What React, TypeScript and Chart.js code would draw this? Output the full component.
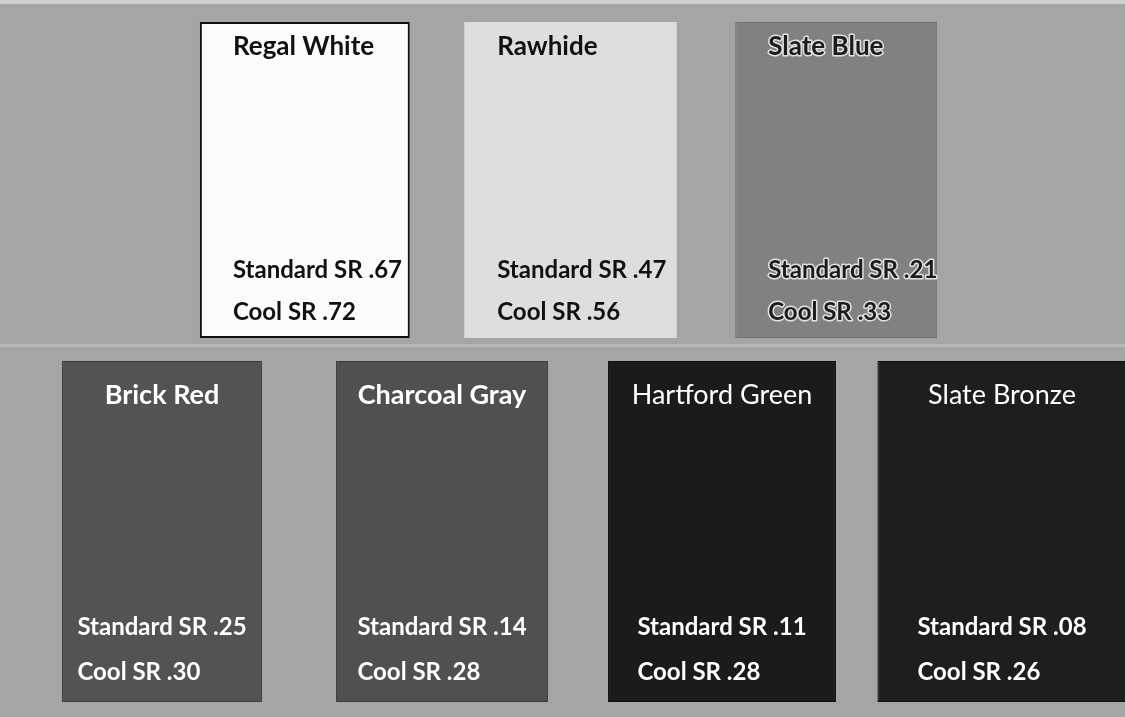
import React, { useEffect, useRef } from "react";
import { Chart, registerables } from "chart.js";

Chart.register(...registerables);

// ---- data ----
const topNames = ["Regal White", "Rawhide", "Slate Blue"];
const topStandardSR = [0.67, 0.47, 0.21];
const topCoolSR = [0.72, 0.56, 0.33];

const bottomNames = ["Brick Red", "Charcoal Gray", "Hartford Green", "Slate Bronze"];
const bottomStandardSR = [0.25, 0.14, 0.11, 0.08];
const bottomCoolSR = [0.3, 0.28, 0.28, 0.26];

// ---- styles ----
const topFills = ["#fbfbfb", "#dedede", "#818181"];
const topBorders = ["#111111", "#c8c8c8", "#6e6e6e"];
const topBorderWidths = [2, 0, 1];
const topTextColors = ["#111111", "#111111", "#1c1c1c"];
const topHalo = [null, null, "rgba(235,235,235,0.9)"];
const topWidths = [0.79, 0.8, 0.76];
const topTitleWeights = ["bold", "bold", "bold"];

const bottomFills = ["#535353", "#505050", "#1b1b1b", "#1e1e1e"];
const bottomBorders = ["#3e3e3e", "#3e3e3e", "#0e0e0e", "#0e0e0e"];
const bottomBorderWidths = [1, 1, 1, 1];
const bottomTextColors = ["#ffffff", "#ffffff", "#ffffff", "#ffffff"];
const bottomHalo = [null, null, null, null];
const bottomWidths = [0.714, 0.757, 0.814, 0.89];
const bottomTitleWeights = ["bold", "bold", "normal", "normal"];

const fmt = (v: number) => "." + String(Math.round(v * 100)).padStart(2, "0");

type RowCfg = {
  names: string[];
  std: number[];
  cool: number[];
  textColors: string[];
  halo: (string | null)[];
  titleWeights: string[];
  titleAlign: "left" | "center";
  titleOffsetX: number;
  titleOffsetY: number;
  srAlign: "left" | "center";
  srOffsetX: number;
  stdFromBottom: number;
  coolFromBottom: number;
  titleSize: number;
  srSize: number;
};

function drawText(ctx: CanvasRenderingContext2D, text: string, x: number, y: number, color: string, halo: string | null) {
  if (halo) {
    ctx.lineWidth = 3;
    ctx.strokeStyle = halo;
    ctx.lineJoin = "round";
    ctx.strokeText(text, x, y);
  }
  ctx.fillStyle = color;
  ctx.fillText(text, x, y);
}

function makeLabelPlugin(cfg: RowCfg) {
  return {
    id: "swatchLabels",
    afterDatasetsDraw(chart: any) {
      const ctx: CanvasRenderingContext2D = chart.ctx;
      ctx.save();
      ctx.textBaseline = "middle";
      cfg.names.forEach((name, i) => {
        const meta = chart.getDatasetMeta(i);
        const el = meta.data[i];
        if (!el) return;
        const p = el.getProps(["x", "y", "base", "width"], true);
        const left = p.x - p.width / 2;
        const top = Math.min(p.y, p.base);
        const bottom = Math.max(p.y, p.base);
        // title
        ctx.font = `${cfg.titleWeights[i]} ${cfg.titleSize}px Lato, "Open Sans", sans-serif`;
        ctx.textAlign = cfg.titleAlign;
        const tx = cfg.titleAlign === "center" ? p.x : left + cfg.titleOffsetX;
        drawText(ctx, name, tx, top + cfg.titleOffsetY, cfg.textColors[i], cfg.halo[i]);
        // SR values
        ctx.font = `bold ${cfg.srSize}px Lato, "Open Sans", sans-serif`;
        ctx.textAlign = "left";
        const stdText = `Standard SR ${fmt(cfg.std[i])}`;
        const coolText = `Cool SR ${fmt(cfg.cool[i])}`;
        let sx = left + cfg.srOffsetX;
        if (cfg.srAlign === "center") {
          sx = p.x - ctx.measureText(stdText).width / 2;
        }
        drawText(ctx, stdText, sx, bottom - cfg.stdFromBottom, cfg.textColors[i], cfg.halo[i]);
        drawText(ctx, coolText, sx, bottom - cfg.coolFromBottom, cfg.textColors[i], cfg.halo[i]);
      });
      ctx.restore();
    },
  };
}

function buildChart(
  canvas: HTMLCanvasElement,
  names: string[],
  fills: string[],
  borders: string[],
  borderWidths: number[],
  widths: number[],
  padding: { left: number; right: number; top: number; bottom: number },
  cfg: RowCfg
) {
  return new Chart(canvas, {
    type: "bar",
    data: {
      labels: names,
      datasets: names.map((n, i) => ({
        label: n,
        data: names.map((_, j) => (j === i ? [0, 1] : null)) as any,
        backgroundColor: fills[i],
        borderColor: borders[i],
        borderWidth: borderWidths[i],
        borderSkipped: false,
        barPercentage: widths[i],
        categoryPercentage: 1,
        grouped: false,
        clip: false as any,
      })),
    },
    options: {
      animation: false,
      responsive: false,
      maintainAspectRatio: false,
      events: [],
      layout: { padding },
      plugins: {
        legend: { display: false },
        tooltip: { enabled: false },
        title: { display: false },
      },
      scales: {
        x: { type: "category", display: false },
        y: { type: "linear", min: 0, max: 1, display: false },
      },
    },
    plugins: [makeLabelPlugin(cfg)],
  } as any);
}

export default function App() {
  const topRef = useRef<HTMLCanvasElement>(null);
  const bottomRef = useRef<HTMLCanvasElement>(null);

  useEffect(() => {
    const top = buildChart(
      topRef.current!,
      topNames,
      topFills,
      topBorders,
      topBorderWidths,
      topWidths,
      { left: 172, right: 156, top: 22, bottom: 7 },
      {
        names: topNames,
        std: topStandardSR,
        cool: topCoolSR,
        textColors: topTextColors,
        halo: topHalo,
        titleWeights: topTitleWeights,
        titleAlign: "left",
        titleOffsetX: 33,
        titleOffsetY: 25,
        srAlign: "left",
        srOffsetX: 33,
        stdFromBottom: 68,
        coolFromBottom: 26,
        titleSize: 26,
        srSize: 24,
      }
    );
    const bottom = buildChart(
      bottomRef.current!,
      bottomNames,
      bottomFills,
      bottomBorders,
      bottomBorderWidths,
      bottomWidths,
      { left: 22, right: 8, top: 16, bottom: 15 },
      {
        names: bottomNames,
        std: bottomStandardSR,
        cool: bottomCoolSR,
        textColors: bottomTextColors,
        halo: bottomHalo,
        titleWeights: bottomTitleWeights,
        titleAlign: "center",
        titleOffsetX: 0,
        titleOffsetY: 34,
        srAlign: "center",
        srOffsetX: 0,
        stdFromBottom: 75,
        coolFromBottom: 30,
        titleSize: 27,
        srSize: 24,
      }
    );
    return () => {
      top.destroy();
      bottom.destroy();
    };
  }, []);

  return (
    <div
      style={{
        position: "fixed",
        left: 0,
        top: 0,
        width: 1125,
        height: 717,
        overflow: "hidden",
        background: "#a5a5a5",
      }}
    >
      <div style={{ position: "absolute", left: 0, top: 0, width: 1125, height: 4, background: "#cfcfcf" }} />
      <div style={{ position: "absolute", left: 0, top: 344, width: 1125, height: 3, background: "#b8b8b8" }} />
      <canvas
        ref={topRef}
        width={1125}
        height={345}
        style={{ position: "absolute", left: 0, top: 0, display: "block" }}
      />
      <canvas
        ref={bottomRef}
        width={1150}
        height={372}
        style={{ position: "absolute", left: 0, top: 345, display: "block" }}
      />
    </div>
  );
}
